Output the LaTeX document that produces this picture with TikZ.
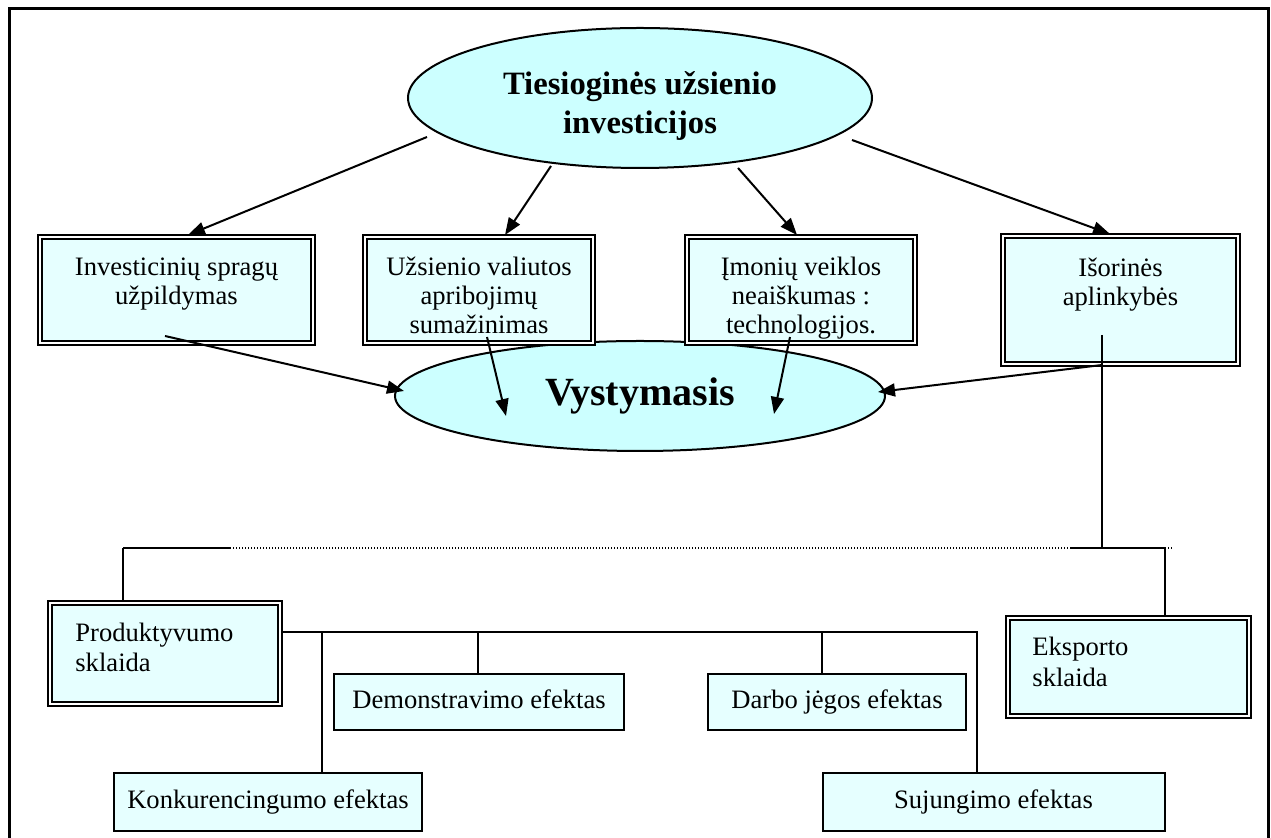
\documentclass[tikz,border=0pt]{standalone}
\usepackage{fontspec}
\setmainfont{Liberation Serif}
\usetikzlibrary{arrows.meta,shapes.geometric}
\definecolor{ellfill}{RGB}{204,255,255}
\definecolor{boxfill}{RGB}{230,255,255}
\begin{document}
\begin{tikzpicture}[x=0.5pt,y=-0.5pt,
  reg/.style={font=\fontsize{13.3pt}{16pt}\selectfont},
  regtight/.style={font=\fontsize{13.3pt}{14.6pt}\selectfont},
  ell/.style={ellipse,draw,line width=1pt,fill=ellfill,inner sep=0pt},
  dbox/.style={rectangle,draw,line width=1pt,double=white,double distance=1pt,fill=boxfill,inner sep=0pt},
  sbox/.style={rectangle,draw,line width=1pt,fill=boxfill,inner sep=0pt,reg,text height=9.5pt,text depth=3pt},
  txt/.style={regtight,inner sep=0pt,anchor=base},
  arr/.style={line width=1pt,-{Triangle[length=8.5pt,width=6.5pt]}},
  ln/.style={line width=0.8pt},
  dotln/.style={line width=0.6pt,dash pattern=on 0.5pt off 1pt}]
\useasboundingbox (0,0) rectangle (1271,838);
\fill[white] (0,0) rectangle (1271,838);
\draw[line width=1.5pt] (9,838) -- (9,9) -- (1268,9) -- (1268,838);

% ellipses
\node[ell,minimum width=232pt,minimum height=70pt] (tui) at (640,98) {};
\node[inner sep=0pt,anchor=base,align=center,font=\fontsize{16.3pt}{19.5pt}\selectfont\bfseries] (tuit) at (640,134) {Tiesioginės užsienio\\investicijos};
\node[ell,minimum width=245pt,minimum height=55pt,font=\fontsize{20pt}{23pt}\selectfont\bfseries] (vys) at (640,396) {Vystymasis};

% double boxes, top row
\node[dbox,minimum width=136.5pt,minimum height=53pt] (b1) at (176.5,290) {};
\node[dbox,minimum width=114pt,minimum height=53pt] (b2) at (479,290) {};
\node[dbox,minimum width=114pt,minimum height=53pt] (b3) at (801,290) {};
\node[dbox,minimum width=117.5pt,minimum height=64pt] (b4) at (1120.5,300) {};
\node[txt,align=center] (t1) at (176.5,305) {Investicinių spragų\\užpildymas};
\node[txt,align=center] (t2) at (479,334) {Užsienio valiutos\\apribojimų\\sumažinimas};
\node[txt,align=center] (t3) at (801,334) {Įmonių veiklos\\neaiškumas :\\technologijos.};
\node[txt,align=center] (t4) at (1120.5,306) {Išorinės\\aplinkybės};

% double boxes, bottom
\node[dbox,minimum width=115pt,minimum height=50.5pt] (prod) at (165,653.5) {};
\node[dbox,minimum width=120.5pt,minimum height=49pt] (eksp) at (1128.5,667) {};
\node[txt,anchor=base west,align=left,font=\fontsize{13.3pt}{15pt}\selectfont] (tp) at (75,672) {Produktyvumo\\sklaida};
\node[txt,anchor=base west,align=left,font=\fontsize{13.3pt}{15.8pt}\selectfont] (te) at (1032,687) {Eksporto\\sklaida};

% single boxes
\node[sbox,minimum width=145pt,minimum height=28pt] (demo) at (479,702) {Demonstravimo efektas};
\node[sbox,minimum width=129pt,minimum height=28pt] (darbo) at (837,702) {Darbo jėgos efektas};
\node[sbox,minimum width=154pt,minimum height=29pt] (konk) at (268,802) {Konkurencingumo efektas};
\node[sbox,minimum width=171pt,minimum height=29pt] (suj) at (993.5,802) {Sujungimo efektas};

% arrows from top ellipse
\draw[arr] ([shift={(-213,39)}]tui.center) -- ([shift={(11.5,-55)}]b1.center);
\draw[arr] ([shift={(-89,68)}]tui.center) -- ([shift={(26,-55)}]b2.center);
\draw[arr] ([shift={(98,70)}]tui.center) -- ([shift={(-4,-55)}]b3.center);
\draw[arr] ([shift={(212,42)}]tui.center) -- ([shift={(-10.5,-66)}]b4.center);

% junction coordinates
\coordinate (hl) at (123,548);
\coordinate (hd1) at (230,548);
\coordinate (hd2) at (1070,548);
\coordinate (j4) at (1102,548);
\coordinate (hr) at (1165,548);
\coordinate (hre) at (1174,548);
\coordinate (b4in) at (1102,335);
\coordinate (k1) at (322,632);
\coordinate (d1) at (478,632);
\coordinate (d2) at (822,632);
\coordinate (pj) at (977,632);

% arrows to Vystymasis
\draw[arr] ([shift={(-11.5,46)}]b1.center) -- ([shift={(-236,-5)}]vys.center);
\draw[arr] ([shift={(8,47)}]b2.center) -- ([shift={(-134,20)}]vys.center);
\draw[arr] ([shift={(-11,47)}]b3.center) -- ([shift={(134,18)}]vys.center);
\draw[arr] (b4.south -| j4) -- ([shift={(238,-4)}]vys.center);

% connectors below
\draw[ln] (b4in) -- (j4);
\draw[ln] (hl) -- (hd1);
\draw[dotln] (hd1) -- (hd2);
\draw[ln] (hd2) -- (hr);
\draw[dotln] (hr) -- (hre);
\draw[ln] (hl) -- (hl |- prod.north);
\draw[ln] (hr) -- (hr |- eksp.north);
\draw[ln] (prod.east |- pj) -- (pj) -- (pj |- suj.north);
\draw[ln] (k1) -- (k1 |- konk.north);
\draw[ln] (d1) -- (d1 |- demo.north);
\draw[ln] (d2) -- (d2 |- darbo.north);
\end{tikzpicture}
\end{document}
